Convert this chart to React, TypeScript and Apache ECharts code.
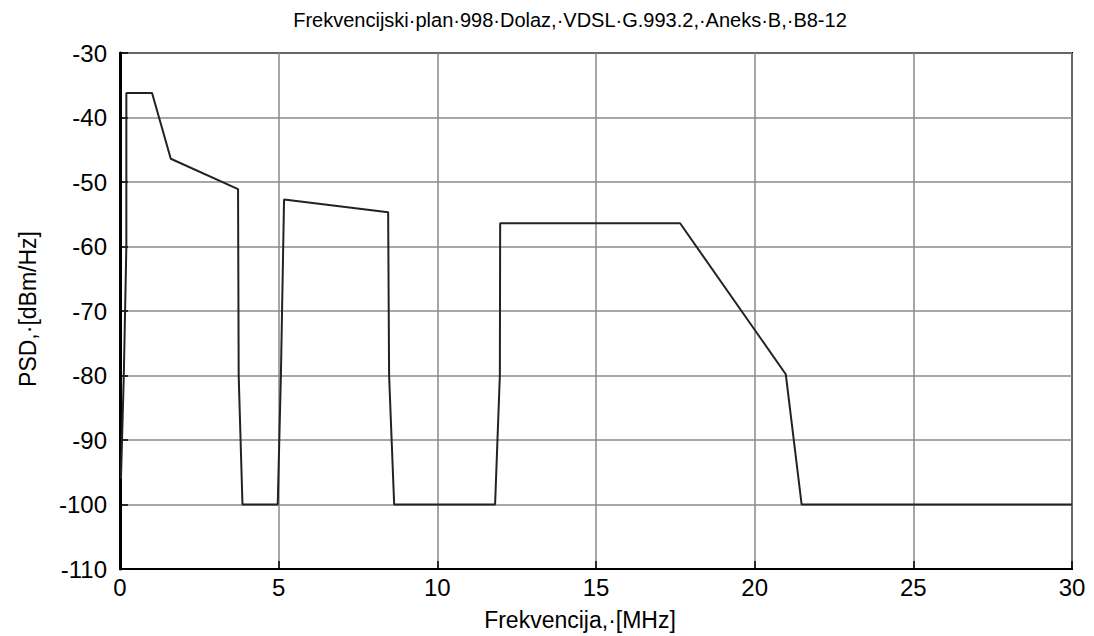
import React, { useEffect, useRef } from "react";
import * as echarts from "echarts";

const titleText = "Frekvencijski·plan·998·Dolaz,·VDSL·G.993.2,·Aneks·B,·B8-12";
const xName = "Frekvencija,·[MHz]";
const yName = "PSD,·[dBm/Hz]";

const freqMHz = [0.03, 0.12, 0.2, 0.2, 1.01, 1.6, 3.72, 3.74, 3.86, 4.97, 5.07, 5.17, 8.45, 8.48, 8.64, 11.82, 11.97, 11.98, 17.65, 20.98, 21.48, 30];
const psdDbm = [-96, -80, -60, -36.2, -36.2, -46.4, -51.1, -80, -100, -100, -80, -52.7, -54.7, -80, -100, -100, -80, -56.4, -56.4, -79.8, -100, -100];

const xMin = 0, xMax = 30, xStep = 5;
const yMin = -110, yMax = -30, yStep = 10;

const FONT = "'Liberation Sans', Arial, sans-serif";

export default function App() {
  const ref = useRef<HTMLDivElement>(null);
  useEffect(() => {
    if (!ref.current) return;
    const chart = echarts.init(ref.current, null, { renderer: "svg" });
    const data = freqMHz.map((f, i) => [f, psdDbm[i]]);
    chart.setOption({
      animation: false,
      backgroundColor: "#fff",
      grid: { left: 120, right: 22, top: 53, bottom: 67, show: true, borderColor: "#000", borderWidth: 2 },
      xAxis: {
        type: "value", min: xMin, max: xMax, interval: xStep,
        axisLine: { show: true, lineStyle: { color: "#000", width: 2 } },
        axisTick: { show: true, inside: true, length: 8, lineStyle: { color: "#000", width: 1.5 } },
        axisLabel: { color: "#000", fontSize: 24, fontFamily: FONT, margin: 6 },
        splitLine: { show: true, lineStyle: { color: "#8a8a8a", width: 1.5 } },
      },
      yAxis: {
        type: "value", min: yMin, max: yMax, interval: yStep,
        axisLine: { show: true, lineStyle: { color: "#000", width: 3 } },
        axisTick: { show: true, inside: true, length: 8, lineStyle: { color: "#000", width: 1.5 } },
        axisLabel: { color: "#000", fontSize: 24, fontFamily: FONT, margin: 13, padding: [8, 0, 0, 0] },
        splitLine: { show: true, lineStyle: { color: "#8a8a8a", width: 1.5 } },
      },
      series: [
        {
          type: "line", data, showSymbol: false, symbol: "none",
          lineStyle: { color: "#222", width: 2 },
        },
      ],
      graphic: [
        {
          type: "text", x: 570, y: 20,
          style: { text: titleText, font: `20px ${FONT}`, fill: "#000", align: "center", verticalAlign: "middle" },
        },
        {
          type: "text", x: 580, y: 620,
          style: { text: xName, font: `23px ${FONT}`, fill: "#000", align: "center", verticalAlign: "middle" },
        },
        {
          type: "text", x: 28, y: 309, rotation: Math.PI / 2,
          style: { text: yName, font: `23px ${FONT}`, fill: "#000", align: "center", verticalAlign: "middle" },
        },
      ],
    });
    return () => chart.dispose();
  }, []);
  return <div ref={ref} style={{ position: "fixed", left: 0, top: 0, width: 1094, height: 636 }} />;
}
